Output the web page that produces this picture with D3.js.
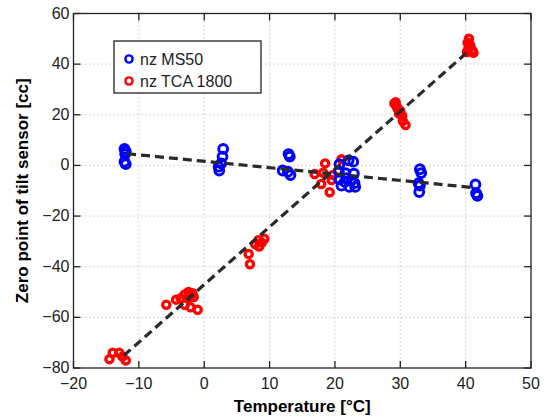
<!DOCTYPE html>
<html>
<head>
<meta charset="utf-8">
<script src="https://cdn.jsdelivr.net/npm/d3@7"></script>
<style>
  body { margin: 0; background: #fff; }
  svg { display: block; font-family: "Liberation Sans", Arial, sans-serif; }
  .grid line { stroke: #b0b0b0; stroke-width: 1; stroke-dasharray: 1,3; }
</style>
</head>
<body>
<svg id="chart" width="544" height="419"></svg>
<script>
// nz MS50 (blue) readings: temperature, zero point
var ms50Temp = [-12.2, -12.0, -12.1, -12.2, -12.0,
  2.9, 2.8, 2.6, 2.2, 2.3,
  12.9, 13.1, 12.0, 12.8, 13.2,
  20.7, 22.1, 22.8, 20.6, 21.6, 22.9, 20.7, 21.5, 22.5, 23.0, 21.0, 22.2, 23.1, 21.8,
  33.0, 33.2, 32.8, 33.0, 32.9,
  41.5, 41.6, 41.8];
var ms50Zero = [6.5, 5.5, 4.5, 1.5, 0.5,
  6.5, 3.5, 0.8, -0.5, -2.0,
  4.5, 3.5, -2.0, -2.5, -3.8,
  0.5, 2.0, 1.5, -2.5, -3.0, -3.2, -5.5, -6.5, -6.0, -7.0, -8.0, -8.5, -8.5, -5.0,
  -1.5, -3.0, -7.0, -8.0, -10.5,
  -7.5, -11.0, -12.0];

// nz TCA 1800 (red) readings
var tcaTemp = [-14.5, -14.0, -13.0, -12.0, -12.5,
  -5.8, -4.3, -3.6, -3.0, -2.4, -1.8, -1.6, -2.5, -3.0, -2.1, -1.0, -2.0,
  6.8, 7.0, 7.8, 8.3, 8.4, 9.2, 8.8,
  18.5, 16.9, 18.2, 17.9, 19.2, 21.0, 19.7, 19.5,
  29.1, 29.4, 29.6, 30.0, 29.8, 30.3, 30.4, 30.8, 29.3,
  40.5, 40.3, 40.7, 40.4, 41.0, 40.2, 41.2];
var tcaZero = [-76.5, -74.0, -74.0, -77.0, -75.5,
  -55.0, -53.0, -52.5, -51.0, -50.0, -50.5, -52.0, -52.5, -55.0, -56.0, -57.0, -51.0,
  -35.0, -39.0, -31.0, -29.5, -32.0, -29.0, -30.5,
  0.8, -3.4, -2.9, -7.3, -10.6, 2.4, -3.8, -5.8,
  24.5, 23.5, 22.5, 21.5, 20.5, 19.5, 17.5, 16.0, 25.0,
  50.0, 48.5, 47.5, 46.0, 45.5, 44.8, 44.5];

// temperature span of each fitted line
var ms50FitSpan = [-11.8, 41.2];
var tcaFitSpan = [-12.3, 40.3];

var xTicks = [-20, -10, 0, 10, 20, 30, 40, 50];
var yTicks = [-80, -60, -40, -20, 0, 20, 40, 60];
var seriesNames = ["nz MS50", "nz TCA 1800"];

var svg = d3.select("#chart");
var pLeft = 73.5, pRight = 531, pTop = 13.5, pBottom = 368;

var x = d3.scaleLinear().domain([-20, 50]).range([pLeft, pRight]);
var y = d3.scaleLinear().domain([-80, 60]).range([pBottom, pTop]);

function minus(v) { return v < 0 ? "\u2212" + Math.abs(v) : "" + v; }

// dotted grid
var grid = svg.append("g").attr("class", "grid");
grid.selectAll(".gx").data(xTicks.slice(1, -1)).enter().append("line")
  .attr("x1", function (d) { return x(d); }).attr("x2", function (d) { return x(d); })
  .attr("y1", pTop).attr("y2", pBottom);
grid.selectAll(".gy").data(yTicks.slice(1, -1)).enter().append("line")
  .attr("y1", function (d) { return y(d); }).attr("y2", function (d) { return y(d); })
  .attr("x1", pLeft).attr("x2", pRight);

// least squares fit for the dashed lines
function fit(xs, ys, span) {
  var mx = d3.mean(xs), my = d3.mean(ys);
  var sxy = d3.sum(xs, function (v, i) { return (v - mx) * (ys[i] - my); });
  var sxx = d3.sum(xs, function (v) { return (v - mx) * (v - mx); });
  var b = sxy / sxx, a = my - b * mx;
  return span.map(function (t) { return [t, a + b * t]; });
}

function drawPoints(xs, ys, color, r, sw) {
  svg.append("g").selectAll("circle").data(xs).enter().append("circle")
    .attr("cx", function (d) { return x(d); })
    .attr("cy", function (d, i) { return y(ys[i]); })
    .attr("r", r)
    .attr("fill", "none")
    .attr("stroke", color)
    .attr("stroke-width", sw);
}

drawPoints(tcaTemp, tcaZero, "#ff0000", 3.6, 3.3);
drawPoints(ms50Temp, ms50Zero, "#0000ff", 4.4, 3);

var line = d3.line().x(function (d) { return x(d[0]); }).y(function (d) { return y(d[1]); });
[fit(ms50Temp, ms50Zero, ms50FitSpan), fit(tcaTemp, tcaZero, tcaFitSpan)].forEach(function (seg) {
  svg.append("path")
    .attr("d", line(seg))
    .attr("fill", "none")
    .attr("stroke", "#2a2a2a")
    .attr("stroke-width", 3.2)
    .attr("stroke-dasharray", "9,5");
});

// axes with inward ticks on all sides
var tl = 7;
var ax = svg.append("g").attr("stroke", "#222").attr("stroke-width", 1.3);
ax.selectAll(".tb").data(xTicks).enter().append("line")
  .attr("x1", function (d) { return x(d); }).attr("x2", function (d) { return x(d); })
  .attr("y1", pBottom).attr("y2", pBottom - tl);
ax.selectAll(".tt").data(xTicks).enter().append("line")
  .attr("x1", function (d) { return x(d); }).attr("x2", function (d) { return x(d); })
  .attr("y1", pTop).attr("y2", pTop + tl);
ax.selectAll(".tl").data(yTicks).enter().append("line")
  .attr("y1", function (d) { return y(d); }).attr("y2", function (d) { return y(d); })
  .attr("x1", pLeft).attr("x2", pLeft + tl);
ax.selectAll(".tr").data(yTicks).enter().append("line")
  .attr("y1", function (d) { return y(d); }).attr("y2", function (d) { return y(d); })
  .attr("x1", pRight).attr("x2", pRight - tl);
ax.append("rect")
  .attr("x", pLeft).attr("y", pTop)
  .attr("width", pRight - pLeft).attr("height", pBottom - pTop)
  .attr("fill", "none");

svg.append("g").selectAll("text").data(xTicks).enter().append("text")
  .attr("x", function (d) { return x(d); })
  .attr("y", pBottom + 21)
  .attr("text-anchor", "middle")
  .attr("font-size", 16)
  .attr("fill", "#222")
  .text(minus);

svg.append("g").selectAll("text").data(yTicks).enter().append("text")
  .attr("x", pLeft - 4)
  .attr("y", function (d) { return y(d) + 5; })
  .attr("text-anchor", "end")
  .attr("font-size", 16)
  .attr("fill", "#222")
  .text(minus);

svg.append("text")
  .attr("x", (pLeft + pRight) / 2)
  .attr("y", 412)
  .attr("text-anchor", "middle")
  .attr("font-size", 17)
  .attr("font-weight", "bold")
  .text("Temperature [\u00b0C]");

svg.append("text")
  .attr("transform", "translate(28," + ((pTop + pBottom) / 2) + ") rotate(-90)")
  .attr("text-anchor", "middle")
  .attr("font-size", 17)
  .attr("font-weight", "bold")
  .text("Zero point of tilt sensor [cc]");

// legend
var lg = svg.append("g");
lg.append("rect")
  .attr("x", 114).attr("y", 41).attr("width", 147).attr("height", 52)
  .attr("fill", "#fff").attr("stroke", "#222").attr("stroke-width", 1.3);
var legendColors = ["#0000ff", "#ff0000"];
seriesNames.forEach(function (name, i) {
  lg.append("circle")
    .attr("cx", 129).attr("cy", 59 + i * 22).attr("r", 3.6)
    .attr("fill", "none").attr("stroke", legendColors[i]).attr("stroke-width", 2.4);
  lg.append("text")
    .attr("x", 140).attr("y", 59 + i * 22 + 5.5)
    .attr("font-size", 16)
    .attr("fill", "#222")
    .text(name);
});
</script>
</body>
</html>
